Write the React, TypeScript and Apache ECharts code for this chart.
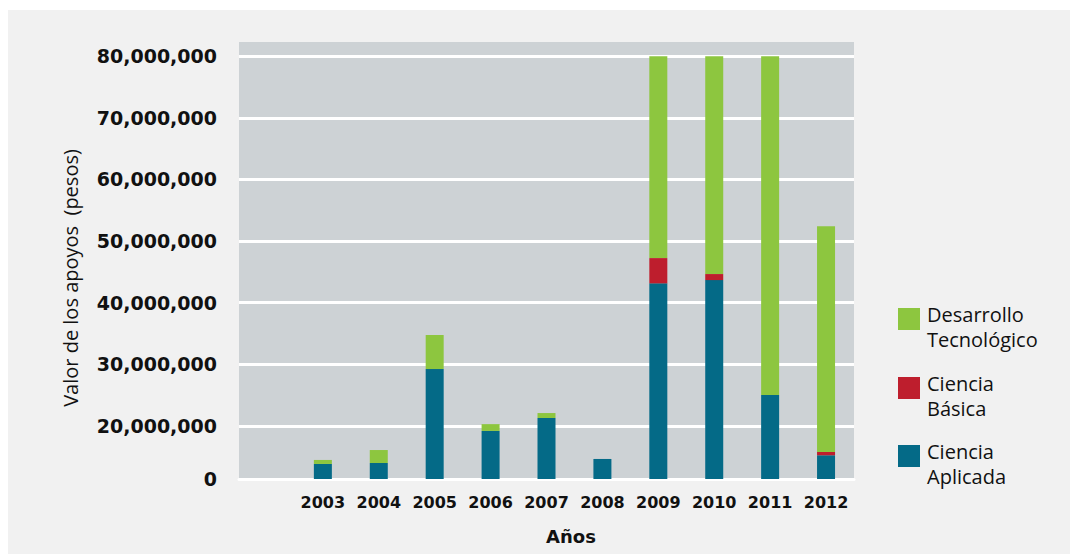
import React, { useEffect, useRef } from "react";
import * as echarts from "echarts";

// Categories (first band is empty in the original layout)
const years = ["", "2003", "2004", "2005", "2006", "2007", "2008", "2009", "2010", "2011", "2012"];

// Axis: the bottom label "0" sits at the floor of the drawn scale
const AXIS_FLOOR = 11400000;
const AXIS_CEIL = 82300000;
const gridValues = [20000000, 30000000, 40000000, 50000000, 60000000, 70000000, 80000000];
const labelValues = [AXIS_FLOOR, ...gridValues];

// Series values (pesos, read on the drawn scale)
const cienciaAplicada = [null, 13840000, 14000000, 29240000, 19200000, 21300000, 14650000, 43140000, 43670000, 25030000, 15250000];
const cienciaBasica = [null, 0, 0, 0, 0, 0, 0, 4100000, 980000, 0, 550000];
const desarrolloTecnologico = [null, 650000, 2100000, 5520000, 1100000, 800000, 0, 32760000, 35350000, 54970000, 36600000];

const legendItems = [
  { name: "Desarrollo\nTecnológico", color: "#8dc63f" },
  { name: "Ciencia\nBásica", color: "#be1e2d" },
  { name: "Ciencia\nAplicada", color: "#046a87" },
];

export default function App() {
  const ref = useRef<HTMLDivElement>(null);

  useEffect(() => {
    if (!ref.current) return;
    const chart = echarts.init(ref.current, null, { renderer: "svg" });
    const barCommon = { type: "bar", stack: "total", barWidth: 18, emphasis: { disabled: true } };
    chart.setOption({
      animation: false,
      grid: {
        left: 239,
        right: 216,
        top: 42,
        bottom: 75,
        show: true,
        backgroundColor: "#cdd2d5",
        borderWidth: 0,
      },
      xAxis: {
        type: "category",
        data: years,
        axisTick: { show: false },
        axisLine: { lineStyle: { color: "#ffffff", width: 3 } },
        axisLabel: {
          interval: 0,
          hideOverlap: false,
          margin: 15,
          color: "#111111",
          fontFamily: "DejaVu Sans",
          fontWeight: "bold",
          fontSize: 16,
        },
        z: 1,
      },
      yAxis: {
        type: "value",
        min: AXIS_FLOOR,
        max: AXIS_CEIL,
        axisLine: { show: false },
        axisTick: { show: false, customValues: gridValues },
        splitLine: { show: true, lineStyle: { color: "#ffffff", width: 3 } },
        axisLabel: {
          customValues: labelValues,
          margin: 22,
          color: "#111111",
          fontFamily: "DejaVu Sans",
          fontWeight: "bold",
          fontSize: 19,
          formatter: (v: number) => (v <= AXIS_FLOOR ? "0" : Math.round(v).toLocaleString("en-US")),
        },
      },
      series: [
        { ...barCommon, name: "Ciencia Aplicada", data: cienciaAplicada, itemStyle: { color: "#046a87" } },
        { ...barCommon, name: "Ciencia Básica", data: cienciaBasica, itemStyle: { color: "#be1e2d" } },
        { ...barCommon, name: "Desarrollo Tecnológico", data: desarrolloTecnologico, itemStyle: { color: "#8dc63f" } },
      ],
      graphic: [
        {
          type: "text",
          x: 70,
          y: 278,
          rotation: Math.PI / 2,
          style: {
            text: "Valor de los apoyos  (pesos)",
            fontFamily: "Open Sans",
            fontSize: 20,
            fill: "#111111",
            align: "center",
            verticalAlign: "middle",
          },
        },
        {
          type: "text",
          x: 571,
          y: 536,
          style: {
            text: "Años",
            fontFamily: "DejaVu Sans",
            fontWeight: "bold",
            fontSize: 18,
            fill: "#111111",
            align: "center",
            verticalAlign: "middle",
          },
        },
        ...legendItems.flatMap((item, i) => {
          const top = [308, 377, 445][i];
          return [
            { type: "rect", shape: { x: 898, y: top, width: 22, height: 22 }, style: { fill: item.color } },
            {
              type: "text",
              x: 927,
              y: top - 6,
              style: {
                text: item.name,
                fontFamily: "Open Sans",
                fontSize: 20,
                lineHeight: 25,
                fill: "#111111",
                align: "left",
                verticalAlign: "top",
              },
            },
          ];
        }),
      ],
    });
    return () => chart.dispose();
  }, []);

  return (
    <div style={{ position: "fixed", left: 0, top: 0, width: 1070, height: 554, background: "#ffffff" }}>
      <div style={{ position: "absolute", left: 8, top: 10, right: 0, bottom: 0, background: "#f1f1f1" }} />
      <div ref={ref} style={{ position: "absolute", left: 0, top: 0, width: 1070, height: 554 }} />
    </div>
  );
}
